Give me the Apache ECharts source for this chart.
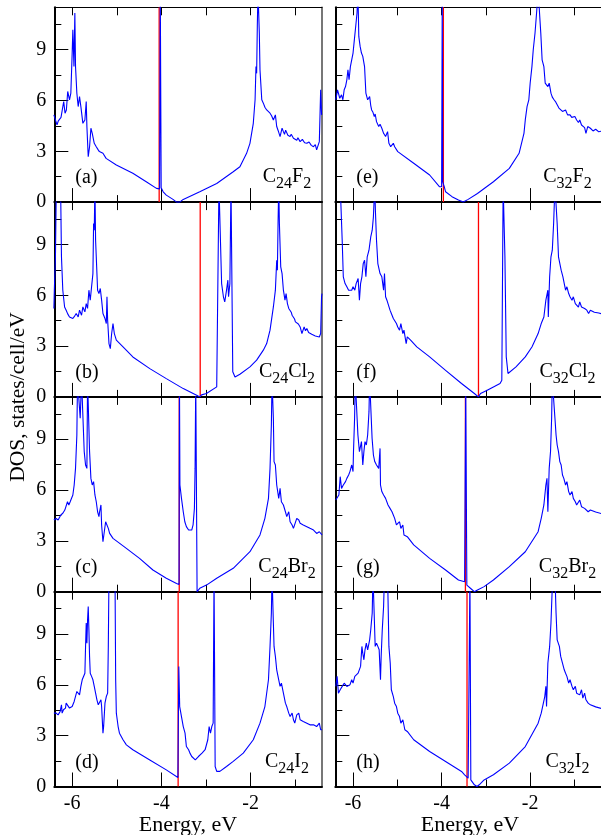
<!DOCTYPE html>
<html><head><meta charset="utf-8">
<script src="https://cdn.jsdelivr.net/npm/echarts@6/dist/echarts.min.js"></script>
<style>html,body{margin:0;padding:0;background:#fff}#c{width:601px;height:835px}</style>
</head><body><div id="c"></div>
<script>
// ---------- tick values ----------
const xMajorTicks = [-6, -4, -2];
const xMinorTicks = [-5, -3, -1];
const xTopTicks = [-6, -5, -4, -3, -2, -1];
const yMajorTicks = [0, 3, 6, 9];
const yMinorTicks = [1.5, 4.5, 7.5, 10.5];

// ---------- panel texts ----------
const panelLabels = ['(a)', '(b)', '(c)', '(d)', '(e)', '(f)', '(g)', '(h)'];
const formulas = [
  ['C', '24', 'F', '2'], ['C', '24', 'Cl', '2'], ['C', '24', 'Br', '2'], ['C', '24', 'I', '2'],
  ['C', '32', 'F', '2'], ['C', '32', 'Cl', '2'], ['C', '32', 'Br', '2'], ['C', '32', 'I', '2']
];
const xAxisTitle = 'Energy, eV';
const yAxisTitle = 'DOS, states/cell/eV';

// ---------- Fermi levels (red lines), a..h ----------
const fermiLevels = [-4.05, -3.13, -3.60, -3.625, -3.96, -3.167, -3.462, -3.426];

// ---------- DOS data [energy eV, DOS] ----------
const dosA = [[-6.41,5.15],[-6.37,5.25],[-6.34,4.56],[-6.31,4.8],[-6.28,4.75],[-6.25,5.0],[-6.22,4.95],[-6.19,5.94],[-6.16,5.25],[-6.13,5.44],[-6.10,6.53],[-6.06,6.04],[-6.03,6.43],[-6.00,8.8],[-5.985,10.18],[-5.96,8.0],[-5.94,11.16],[-5.925,8.0],[-5.895,6.43],[-5.865,5.64],[-5.835,6.23],[-5.805,5.64],[-5.76,4.65],[-5.715,4.85],[-5.685,5.94],[-5.67,4.46],[-5.64,2.68],[-5.61,3.27],[-5.58,4.36],[-5.55,4.06],[-5.505,3.47],[-5.46,3.27],[-5.42,3.1],[-5.39,2.98],[-5.35,3.0],[-5.31,2.88],[-5.24,2.58],[-5.01,2.19],[-4.64,1.70],[-4.34,1.20],[-4.11,0.81],[-4.04,0.78],[-4.025,12.5],[-4.015,12.5],[-4.005,0.85],[-3.99,0.78],[-3.96,0.61],[-3.89,0.41],[-3.74,0.16],[-3.66,0],[-3.59,0],[-3.51,0.16],[-3.14,0.61],[-2.76,1.10],[-2.39,1.79],[-2.24,2.09],[-2.165,2.49],[-2.09,2.88],[-2.015,3.47],[-1.94,4.65],[-1.90,6.04],[-1.88,8.0],[-1.865,7.6],[-1.85,10.37],[-1.835,12.5],[-1.82,12.5],[-1.805,9.98],[-1.79,7.81],[-1.75,6.04],[-1.715,5.84],[-1.68,5.6],[-1.64,5.44],[-1.6,5.55],[-1.565,5.25],[-1.53,5.1],[-1.49,4.85],[-1.445,5.15],[-1.415,4.46],[-1.38,4.2],[-1.34,3.87],[-1.295,4.36],[-1.265,4.16],[-1.24,4.0],[-1.215,4.25],[-1.19,4.16],[-1.165,3.95],[-1.115,3.87],[-1.09,4.0],[-1.04,3.77],[-1.0,3.85],[-0.965,3.65],[-0.94,3.8],[-0.89,3.57],[-0.84,3.7],[-0.79,3.5],[-0.74,3.47],[-0.69,3.55],[-0.64,3.35],[-0.59,3.27],[-0.55,3.4],[-0.52,3.08],[-0.46,3.57],[-0.43,6.63],[-0.41,5.15],[-0.40,5.15]];

const dosB = [[-6.41,5.22],[-6.40,6.30],[-6.375,8.27],[-6.36,11.46],[-6.345,12.5],[-6.285,12.5],[-6.255,11.46],[-6.24,8.27],[-6.21,6.30],[-6.17,5.31],[-6.135,5.12],[-6.1,4.9],[-6.06,4.72],[-6.02,4.8],[-5.985,4.63],[-5.95,4.75],[-5.91,4.92],[-5.865,4.72],[-5.835,5.12],[-5.79,4.82],[-5.76,5.31],[-5.715,5.02],[-5.685,5.51],[-5.655,5.22],[-5.625,6.30],[-5.595,5.71],[-5.565,6.50],[-5.535,7.28],[-5.52,10.24],[-5.505,9.84],[-5.49,12.5],[-5.475,9.25],[-5.46,8.27],[-5.43,6.30],[-5.40,6.10],[-5.37,6.40],[-5.34,5.71],[-5.31,4.92],[-5.265,4.63],[-5.235,4.33],[-5.22,5.91],[-5.205,4.53],[-5.175,3.15],[-5.145,2.85],[-5.115,3.74],[-5.085,4.33],[-5.055,3.74],[-5.01,3.35],[-4.86,2.95],[-4.64,2.36],[-4.26,1.67],[-3.89,1.08],[-3.51,0.49],[-3.21,0.10],[-3.14,0],[-3.10,0.12],[-2.99,0.20],[-2.76,0.59],[-2.72,0.59],[-2.71,12.5],[-2.69,12.5],[-2.65,6.69],[-2.61,5.91],[-2.58,5.61],[-2.54,6.30],[-2.51,6.89],[-2.495,5.91],[-2.465,6.69],[-2.44,12.5],[-2.42,12.5],[-2.40,1.48],[-2.35,1.18],[-2.24,1.34],[-2.015,1.77],[-1.865,2.17],[-1.715,2.76],[-1.64,3.15],[-1.565,3.94],[-1.49,5.31],[-1.445,6.30],[-1.415,8.07],[-1.40,7.48],[-1.385,10.24],[-1.37,12.5],[-1.355,10.24],[-1.325,7.68],[-1.295,7.28],[-1.265,6.30],[-1.23,5.71],[-1.205,6.10],[-1.175,5.51],[-1.145,5.22],[-1.115,5.12],[-1.09,5.0],[-1.07,4.82],[-1.04,4.92],[-1.015,4.6],[-0.996,4.43],[-0.966,4.53],[-0.93,4.3],[-0.89,4.13],[-0.85,3.74],[-0.80,4.13],[-0.77,3.9],[-0.74,4.04],[-0.70,3.8],[-0.67,3.84],[-0.63,3.7],[-0.59,3.74],[-0.55,3.6],[-0.52,3.64],[-0.46,3.54],[-0.43,3.74],[-0.41,5.91],[-0.40,6.10]];

const dosC = [[-6.41,4.23],[-6.36,4.33],[-6.315,4.23],[-6.255,4.53],[-6.21,4.63],[-6.165,4.82],[-6.135,4.92],[-6.105,5.31],[-6.075,5.12],[-6.045,5.31],[-6.015,5.41],[-5.985,5.71],[-5.955,6.30],[-5.925,7.28],[-5.895,9.25],[-5.88,12.5],[-5.85,12.5],[-5.82,10.24],[-5.79,12.5],[-5.76,12.5],[-5.73,8.27],[-5.70,7.48],[-5.67,7.28],[-5.655,12.5],[-5.625,12.5],[-5.61,8.27],[-5.58,6.69],[-5.55,6.30],[-5.52,6.50],[-5.49,5.71],[-5.46,5.31],[-5.43,4.72],[-5.40,4.43],[-5.385,4.72],[-5.355,5.12],[-5.34,3.94],[-5.31,2.95],[-5.28,3.54],[-5.25,4.13],[-5.22,4.23],[-5.19,3.74],[-5.16,3.44],[-5.085,3.15],[-4.785,2.56],[-4.49,1.97],[-4.19,1.28],[-3.89,0.79],[-3.66,0.49],[-3.605,0.43],[-3.595,12.5],[-3.585,6.30],[-3.55,5.51],[-3.51,4.72],[-3.475,4.13],[-3.44,3.84],[-3.39,3.64],[-3.36,3.54],[-3.32,3.64],[-3.29,3.94],[-3.26,4.92],[-3.245,7.28],[-3.23,12.5],[-3.21,12.5],[-3.20,0],[-3.18,0.10],[-3.14,0.20],[-2.99,0.39],[-2.76,0.79],[-2.39,1.38],[-2.015,2.36],[-1.79,3.35],[-1.68,4.33],[-1.60,5.51],[-1.565,7.28],[-1.535,9.84],[-1.52,12.5],[-1.49,10.24],[-1.475,7.68],[-1.445,7.48],[-1.415,6.30],[-1.37,5.51],[-1.34,6.10],[-1.31,5.31],[-1.265,5.12],[-1.22,4.72],[-1.19,4.43],[-1.145,4.72],[-1.115,4.13],[-1.07,3.94],[-1.04,3.74],[-0.966,4.33],[-0.92,4.23],[-0.89,4.04],[-0.85,4.1],[-0.82,3.94],[-0.78,4.0],[-0.74,3.84],[-0.70,3.9],[-0.67,3.74],[-0.63,3.8],[-0.59,3.64],[-0.55,3.7],[-0.52,3.44],[-0.46,3.54],[-0.40,3.35]];

const dosD = [[-6.41,4.33],[-6.36,4.33],[-6.315,4.23],[-6.27,4.43],[-6.24,4.82],[-6.225,4.33],[-6.195,4.53],[-6.15,4.63],[-6.135,4.92],[-6.105,4.82],[-6.06,4.63],[-6.03,4.72],[-6.0,4.72],[-5.955,5.02],[-5.925,4.92],[-5.895,5.61],[-5.865,5.51],[-5.835,5.41],[-5.805,5.91],[-5.775,6.30],[-5.745,6.30],[-5.715,6.69],[-5.70,8.27],[-5.685,9.65],[-5.67,8.46],[-5.655,9.84],[-5.64,10.63],[-5.625,9.25],[-5.61,7.68],[-5.595,6.69],[-5.565,6.50],[-5.535,6.30],[-5.505,5.91],[-5.475,5.51],[-5.445,5.12],[-5.415,4.82],[-5.385,4.92],[-5.355,5.12],[-5.34,4.72],[-5.31,3.15],[-5.295,3.54],[-5.265,4.92],[-5.235,5.31],[-5.205,5.51],[-5.19,8.27],[-5.175,12.5],[-5.04,12.5],[-5.025,6.30],[-5.01,4.33],[-5.0,4.13],[-4.97,3.54],[-4.94,3.15],[-4.86,2.76],[-4.785,2.46],[-4.64,2.17],[-4.26,1.57],[-3.89,0.98],[-3.63,0.53],[-3.61,7.09],[-3.59,4.72],[-3.55,4.13],[-3.51,3.54],[-3.47,3.15],[-3.44,2.36],[-3.39,2.17],[-3.36,1.97],[-3.32,1.77],[-3.24,1.57],[-3.17,1.77],[-3.09,1.97],[-3.02,2.17],[-2.96,2.76],[-2.93,3.54],[-2.90,3.15],[-2.87,3.54],[-2.84,3.74],[-2.82,12.5],[-2.81,12.5],[-2.795,1.18],[-2.76,0.89],[-2.69,0.89],[-2.54,1.18],[-2.39,1.48],[-2.165,1.97],[-1.94,2.76],[-1.79,3.74],[-1.68,4.72],[-1.60,6.30],[-1.565,8.27],[-1.535,10.24],[-1.52,12.5],[-1.49,9.65],[-1.475,8.27],[-1.445,7.68],[-1.415,6.89],[-1.37,6.30],[-1.34,5.91],[-1.31,6.10],[-1.265,5.51],[-1.22,4.92],[-1.19,4.72],[-1.145,4.33],[-1.115,4.13],[-1.07,4.33],[-1.04,3.94],[-1.01,3.74],[-0.966,4.23],[-0.92,4.33],[-0.89,3.94],[-0.85,4.0],[-0.82,3.84],[-0.78,3.9],[-0.74,3.74],[-0.70,3.8],[-0.67,3.64],[-0.63,3.7],[-0.59,3.64],[-0.55,3.6],[-0.52,3.54],[-0.46,3.74],[-0.43,3.35],[-0.40,3.35]];

const dosE = [[-6.39,6.04],[-6.35,6.63],[-6.30,6.13],[-6.26,6.33],[-6.23,6.04],[-6.20,6.63],[-6.17,6.82],[-6.14,7.22],[-6.115,7.81],[-6.09,7.22],[-6.06,8.0],[-6.03,8.4],[-6.0,8.8],[-5.97,9.59],[-5.94,10.37],[-5.91,11.16],[-5.89,12.5],[-5.87,9.78],[-5.84,9.19],[-5.81,8.8],[-5.78,8.6],[-5.74,8.0],[-5.71,6.43],[-5.67,6.04],[-5.625,6.23],[-5.6,5.7],[-5.58,5.44],[-5.55,5.3],[-5.52,5.05],[-5.5,5.2],[-5.47,4.75],[-5.42,4.46],[-5.39,4.6],[-5.35,4.36],[-5.31,4.06],[-5.265,3.87],[-5.22,4.16],[-5.19,3.47],[-5.15,3.27],[-5.09,3.47],[-5.06,3.27],[-4.99,2.98],[-4.63,2.29],[-4.27,1.60],[-4.05,0.91],[-4.0,0.91],[-3.985,12.5],[-3.975,1.2],[-3.94,0.91],[-3.91,0.61],[-3.765,0.32],[-3.62,0.12],[-3.51,0],[-3.40,0.16],[-3.19,0.51],[-2.83,1.20],[-2.47,1.99],[-2.25,2.88],[-2.14,4.06],[-2.11,4.85],[-2.07,5.64],[-2.03,6.04],[-2.0,7.02],[-1.96,8.0],[-1.93,8.99],[-1.89,9.98],[-1.855,11.16],[-1.82,12.5],[-1.78,12.5],[-1.76,9.98],[-1.73,8.4],[-1.69,8.0],[-1.66,7.02],[-1.60,6.82],[-1.57,7.02],[-1.53,6.43],[-1.5,6.2],[-1.46,6.04],[-1.42,5.9],[-1.39,5.84],[-1.35,5.55],[-1.31,5.64],[-1.27,5.35],[-1.24,5.44],[-1.20,5.44],[-1.155,5.15],[-1.12,5.25],[-1.10,5.15],[-1.06,5.0],[-1.03,4.95],[-0.99,5.05],[-0.95,4.85],[-0.91,4.7],[-0.88,4.85],[-0.84,4.55],[-0.81,4.65],[-0.77,4.4],[-0.74,4.06],[-0.70,4.46],[-0.64,4.36],[-0.58,4.2],[-0.52,4.3],[-0.45,4.15],[-0.38,4.2]];

const dosF = [[-6.39,12.5],[-6.375,12.5],[-6.29,12.5],[-6.245,9.25],[-6.22,7.09],[-6.18,6.69],[-6.14,6.50],[-6.10,6.30],[-6.07,6.20],[-6.03,6.30],[-6.0,6.50],[-5.96,6.30],[-5.93,6.69],[-5.885,6.99],[-5.856,5.71],[-5.83,6.69],[-5.80,7.09],[-5.77,7.87],[-5.74,8.07],[-5.71,7.09],[-5.68,8.27],[-5.64,8.66],[-5.60,9.45],[-5.567,9.84],[-5.54,10.63],[-5.51,12.5],[-5.495,11.0],[-5.47,9.25],[-5.44,7.87],[-5.39,7.28],[-5.35,7.09],[-5.31,6.30],[-5.29,7.28],[-5.265,5.91],[-5.235,5.71],[-5.21,5.61],[-5.165,5.12],[-5.135,4.92],[-5.09,4.63],[-5.06,4.72],[-5.02,4.33],[-4.99,4.13],[-4.95,3.94],[-4.92,4.33],[-4.875,3.74],[-4.85,3.94],[-4.80,3.15],[-4.775,3.54],[-4.70,3.35],[-4.56,2.95],[-4.27,2.36],[-3.91,1.57],[-3.55,0.79],[-3.26,0.20],[-3.17,0],[-3.12,0.20],[-2.97,0.39],[-2.83,0.59],[-2.68,0.79],[-2.64,0.98],[-2.61,12.5],[-2.58,12.5],[-2.57,8.27],[-2.54,2.36],[-2.50,1.38],[-2.47,1.48],[-2.32,1.77],[-2.11,2.36],[-1.96,2.95],[-1.82,3.74],[-1.75,4.33],[-1.69,4.72],[-1.645,5.71],[-1.60,6.30],[-1.59,4.72],[-1.56,7.09],[-1.53,8.27],[-1.50,8.66],[-1.47,10.24],[-1.44,12.5],[-1.415,12.5],[-1.39,10.24],[-1.36,8.27],[-1.33,8.27],[-1.30,7.48],[-1.26,7.09],[-1.23,6.69],[-1.20,6.30],[-1.17,6.50],[-1.13,6.10],[-1.10,5.91],[-1.055,5.71],[-1.025,5.91],[-0.98,5.51],[-0.94,5.51],[-0.91,5.3],[-0.88,5.61],[-0.84,5.31],[-0.81,5.41],[-0.77,5.22],[-0.72,5.12],[-0.68,4.92],[-0.64,5.12],[-0.55,5.0],[-0.45,4.95],[-0.38,4.9]];

const dosG = [[-6.39,5.41],[-6.35,5.51],[-6.32,5.71],[-6.29,6.79],[-6.26,6.10],[-6.22,6.30],[-6.17,6.50],[-6.14,6.69],[-6.10,6.89],[-6.07,7.09],[-6.03,7.48],[-6.0,7.09],[-5.99,8.27],[-5.965,10.24],[-5.95,12.5],[-5.91,12.5],[-5.89,9.25],[-5.856,8.27],[-5.81,8.86],[-5.78,7.48],[-5.755,8.27],[-5.73,8.86],[-5.70,8.66],[-5.67,9.25],[-5.64,10.63],[-5.625,12.5],[-5.58,12.5],[-5.57,9.06],[-5.54,8.07],[-5.51,7.68],[-5.47,7.48],[-5.42,7.28],[-5.39,8.46],[-5.38,6.30],[-5.35,5.91],[-5.31,5.71],[-5.265,5.51],[-5.21,5.12],[-5.165,4.92],[-5.12,4.72],[-5.09,4.63],[-5.06,4.33],[-5.02,3.94],[-4.99,3.84],[-4.95,4.13],[-4.92,3.74],[-4.875,3.94],[-4.85,3.35],[-4.775,3.25],[-4.63,2.76],[-4.27,1.97],[-3.91,1.28],[-3.62,0.69],[-3.48,0.59],[-3.455,12.5],[-3.43,0.39],[-3.40,0.30],[-3.33,0.16],[-3.26,0],[-3.19,0.10],[-3.04,0.30],[-2.83,0.69],[-2.47,1.48],[-2.11,2.36],[-1.82,3.54],[-1.75,4.33],[-1.69,5.12],[-1.645,6.30],[-1.62,6.69],[-1.60,4.72],[-1.57,7.28],[-1.54,8.27],[-1.515,10.24],[-1.50,12.5],[-1.46,12.5],[-1.44,10.24],[-1.415,9.25],[-1.39,8.66],[-1.36,8.27],[-1.33,7.68],[-1.30,7.48],[-1.27,6.89],[-1.24,6.69],[-1.20,6.30],[-1.17,6.50],[-1.13,5.91],[-1.10,5.71],[-1.055,5.91],[-1.025,5.51],[-0.98,5.31],[-0.95,5.12],[-0.91,5.22],[-0.88,5.41],[-0.84,5.02],[-0.81,5.12],[-0.77,4.92],[-0.74,4.82],[-0.69,4.72],[-0.64,4.82],[-0.52,4.7],[-0.38,4.6]];

const dosH = [[-6.39,5.91],[-6.36,6.50],[-6.33,5.51],[-6.29,5.71],[-6.245,5.91],[-6.20,6.10],[-6.14,5.91],[-6.07,6.0],[-6.03,6.30],[-6.0,6.10],[-5.96,6.50],[-5.93,6.40],[-5.885,6.69],[-5.856,6.69],[-5.83,7.09],[-5.80,8.27],[-5.78,7.87],[-5.755,7.48],[-5.73,8.07],[-5.70,8.46],[-5.67,8.07],[-5.625,8.66],[-5.60,9.25],[-5.567,10.24],[-5.55,12.5],[-5.52,12.5],[-5.50,8.27],[-5.47,8.46],[-5.44,8.27],[-5.41,8.07],[-5.38,6.30],[-5.365,7.68],[-5.34,9.25],[-5.31,10.63],[-5.29,12.5],[-5.22,12.5],[-5.19,8.27],[-5.16,7.28],[-5.135,5.71],[-5.09,5.31],[-5.06,4.92],[-5.02,4.72],[-4.99,4.33],[-4.95,4.13],[-4.92,3.74],[-4.875,3.94],[-4.83,3.35],[-4.775,3.25],[-4.63,2.76],[-4.27,2.07],[-3.91,1.48],[-3.55,0.89],[-3.48,0.69],[-3.45,0.79],[-3.40,0.49],[-3.375,0.49],[-3.36,12.5],[-3.34,0.39],[-3.26,0.10],[-3.20,0],[-3.15,0.10],[-3.04,0.39],[-2.83,0.69],[-2.47,1.38],[-2.11,2.36],[-1.82,3.74],[-1.75,4.33],[-1.67,5.31],[-1.645,5.91],[-1.63,4.72],[-1.60,7.28],[-1.56,8.27],[-1.53,9.65],[-1.49,12.5],[-1.44,12.5],[-1.415,10.24],[-1.39,8.66],[-1.34,8.27],[-1.31,7.68],[-1.27,7.28],[-1.23,6.89],[-1.20,6.69],[-1.17,6.50],[-1.13,6.10],[-1.10,6.30],[-1.055,5.91],[-1.025,5.71],[-0.98,5.91],[-0.95,5.51],[-0.91,5.61],[-0.88,5.41],[-0.84,5.71],[-0.81,5.22],[-0.77,5.51],[-0.74,5.12],[-0.69,4.92],[-0.64,4.82],[-0.52,4.7],[-0.38,4.6]];

const panelData = [dosA, dosB, dosC, dosD, dosE, dosF, dosG, dosH];

// ---------- layout ----------
const FONT = 'Liberation Serif';
const COL_LEFT = [54.33, 335.33];
const COL_WIDTH = [267.67, 277.5];
const ROW_TOP = 7.3, ROW_H = 194.8;
const X_MIN = -6.4, X_MAX = -0.4, Y_MIN = 0, Y_MAX = 11.5;
const FORMULA_CX = [287, 567.5];
const MAIN_SIZE = 20, SUB_SIZE = 16, TICK_SIZE = 20, TITLE_SIZE = 22;

const measureCtx = document.createElement('canvas').getContext('2d');
function textWidth(t, size) {
  measureCtx.font = size + 'px "' + FONT + '"';
  return measureCtx.measureText(t).width;
}

const chart = echarts.init(document.getElementById('c'), null, {renderer: 'canvas', width: 601, height: 835});

const grids = [], xAxes = [], yAxes = [], series = [], graphics = [];
const tickRich = {t: {fontFamily: FONT, fontSize: TICK_SIZE, color: '#000', fill: '#000'}};
const tickFormatter = function (v) { return '{t|' + v + '}'; };

for (let p = 0; p < 8; p++) {
  const col = p < 4 ? 0 : 1, row = p % 4;
  const left = COL_LEFT[col], width = COL_WIDTH[col], top = ROW_TOP + row * ROW_H;
  const bottom = top + ROW_H;
  grids.push({left: left, top: top, width: width, height: ROW_H, containLabel: false});

  xAxes.push({gridIndex: p, type: 'value', min: X_MIN, max: X_MAX, position: 'bottom',
    axisLine: {show: true, onZero: false, lineStyle: {color: '#000', width: 2}},
    axisTick: {show: true, inside: true, length: 14, customValues: xMajorTicks, lineStyle: {color: '#000', width: 1}},
    axisLabel: {show: row === 3, customValues: xMajorTicks, margin: 7, fontFamily: FONT, fontSize: TICK_SIZE, color: '#000',
      formatter: tickFormatter, rich: tickRich},
    splitLine: {show: false}});
  xAxes.push({gridIndex: p, type: 'value', min: X_MIN, max: X_MAX, position: 'bottom',
    axisLine: {show: false, onZero: false},
    axisTick: {show: true, inside: true, length: 7, customValues: xMinorTicks, lineStyle: {color: '#000', width: 1}},
    axisLabel: {show: false}, splitLine: {show: false}});
  xAxes.push({gridIndex: p, type: 'value', min: X_MIN, max: X_MAX, position: 'top',
    axisLine: {show: row === 0, onZero: false, lineStyle: {color: '#000', width: 1}},
    axisTick: {show: true, inside: true, length: 8, customValues: xTopTicks, lineStyle: {color: '#000', width: 1}},
    axisLabel: {show: false}, splitLine: {show: false}});

  yAxes.push({gridIndex: p, type: 'value', min: Y_MIN, max: Y_MAX, position: 'left',
    axisLine: {show: true, onZero: false, lineStyle: {color: '#000', width: 2}},
    axisTick: {show: true, inside: true, length: 14, customValues: yMajorTicks, lineStyle: {color: '#000', width: 1}},
    axisLabel: {show: col === 0, customValues: yMajorTicks, margin: 8, fontFamily: FONT, fontSize: TICK_SIZE, color: '#000',
      formatter: tickFormatter, rich: tickRich},
    splitLine: {show: false}});
  yAxes.push({gridIndex: p, type: 'value', min: Y_MIN, max: Y_MAX, position: 'left',
    axisLine: {show: false, onZero: false},
    axisTick: {show: true, inside: true, length: 7, customValues: yMinorTicks, lineStyle: {color: '#000', width: 1}},
    axisLabel: {show: false}, splitLine: {show: false}});
  yAxes.push({gridIndex: p, type: 'value', min: Y_MIN, max: Y_MAX, position: 'right',
    axisLine: {show: col === 0, onZero: false, lineStyle: {color: '#555', width: 1.6}},
    axisTick: {show: false}, axisLabel: {show: false}, splitLine: {show: false}});

  series.push({type: 'line', xAxisIndex: 3 * p, yAxisIndex: 3 * p, data: [[fermiLevels[p], Y_MIN], [fermiLevels[p], Y_MAX]],
    symbol: 'none', lineStyle: {color: '#ff0000', width: 1.3}, z: 2, animation: false, silent: true});
  series.push({type: 'line', xAxisIndex: 3 * p, yAxisIndex: 3 * p, data: panelData[p],
    symbol: 'none', showSymbol: false, clip: true, lineStyle: {color: '#0000ff', width: 1.1}, z: 3, animation: false, silent: true});

  graphics.push({type: 'text', x: left + 21, y: bottom - 24,
    style: {text: panelLabels[p], font: MAIN_SIZE + 'px "' + FONT + '"', fill: '#000', align: 'left', verticalAlign: 'middle'}});

  // chemical formula with subscripts, pieces laid out left to right
  const f = formulas[p];
  const pieces = [[f[0], false], [f[1], true], [f[2], false], [f[3], true]];
  let total = 0;
  pieces.forEach(function (pc) { total += textWidth(pc[0], pc[1] ? SUB_SIZE : MAIN_SIZE); });
  let x = FORMULA_CX[col] - total / 2;
  const baseline = bottom - 18.5;
  pieces.forEach(function (pc) {
    const size = pc[1] ? SUB_SIZE : MAIN_SIZE;
    const bl = pc[1] ? baseline + 6 : baseline;
    graphics.push({type: 'text', x: x, y: bl - 0.3375 * size,
      style: {text: pc[0], font: size + 'px "' + FONT + '"', fill: '#000', align: 'left', verticalAlign: 'middle'}});
    x += textWidth(pc[0], size);
  });
}

graphics.push({type: 'text', x: 18, y: 397, rotation: Math.PI / 2,
  style: {text: yAxisTitle, font: '21.5px "' + FONT + '"', fill: '#000', align: 'center', verticalAlign: 'middle'}});
graphics.push({type: 'text', x: 188, y: 825,
  style: {text: xAxisTitle, font: TITLE_SIZE + 'px "' + FONT + '"', fill: '#000', align: 'center', verticalAlign: 'middle'}});
graphics.push({type: 'text', x: 470, y: 825,
  style: {text: xAxisTitle, font: TITLE_SIZE + 'px "' + FONT + '"', fill: '#000', align: 'center', verticalAlign: 'middle'}});

chart.setOption({
  animation: false,
  backgroundColor: '#fff',
  textStyle: {fontFamily: FONT},
  grid: grids, xAxis: xAxes, yAxis: yAxes, series: series, graphic: graphics
});
</script></body></html>
